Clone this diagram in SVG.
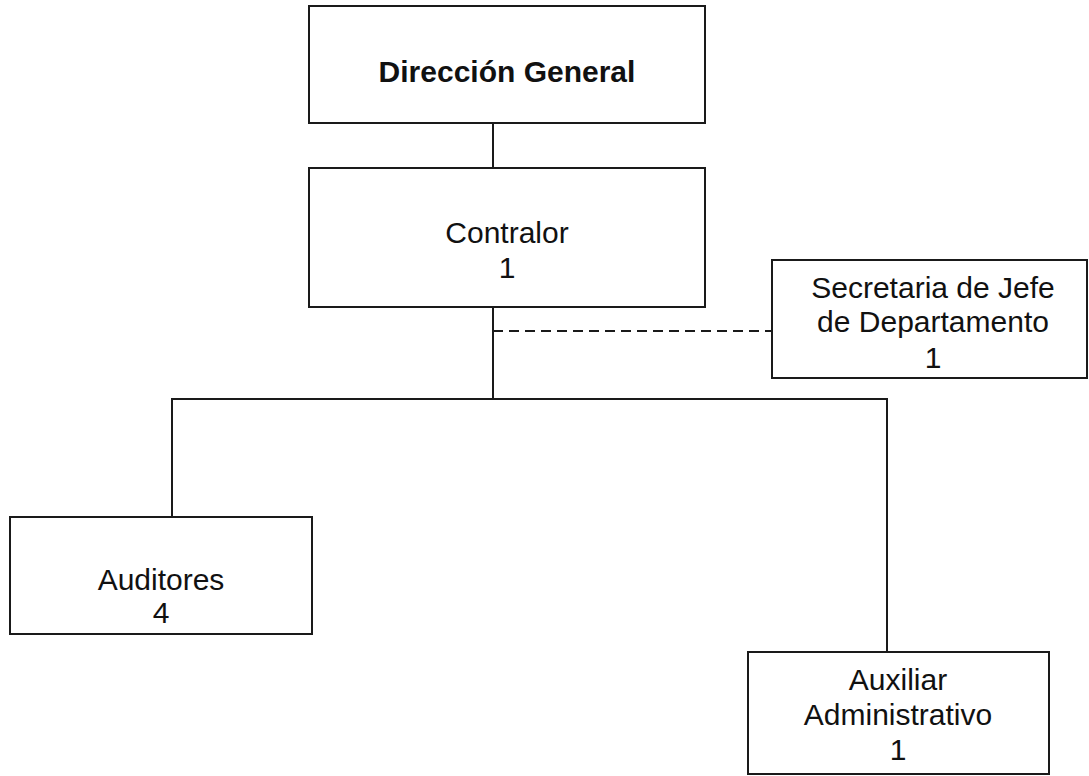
<svg xmlns="http://www.w3.org/2000/svg" width="1089" height="776" viewBox="0 0 1089 776">
<style>
.box{fill:#fff;stroke:#1a1a1a;stroke-width:2}
.ln{fill:none;stroke:#1a1a1a;stroke-width:2}
.dash{fill:none;stroke:#1a1a1a;stroke-width:2;stroke-dasharray:10 6}
text{font-family:"Liberation Sans",Arial,sans-serif;font-size:30px;fill:#111;text-anchor:middle}
.b{font-weight:bold}
</style>
<rect width="1089" height="776" fill="#fff"/>
<g id="connectors">
<line class="ln" x1="493" y1="123" x2="493" y2="168"/>
<line class="ln" x1="493" y1="307" x2="493" y2="399"/>
<polyline class="ln" points="172,517 172,399 887,399 887,652"/>
<line class="dash" x1="493" y1="331" x2="772" y2="331"/>
</g>
<g id="direccion">
<rect class="box" x="309" y="6" width="396" height="117"/>
<text class="b" x="507" y="82">Dirección General</text>
</g>
<g id="contralor">
<rect class="box" x="309" y="168" width="396" height="139"/>
<text x="507" y="243">Contralor</text>
<text x="507" y="278">1</text>
</g>
<g id="secretaria">
<rect class="box" x="772" y="260" width="315" height="118"/>
<text x="933" y="298">Secretaria de Jefe</text>
<text x="933" y="332">de Departamento</text>
<text x="933" y="368">1</text>
</g>
<g id="auditores">
<rect class="box" x="10" y="517" width="302" height="117"/>
<text x="161" y="590">Auditores</text>
<text x="161" y="623">4</text>
</g>
<g id="auxiliar">
<rect class="box" x="748" y="652" width="301" height="122"/>
<text x="898" y="690">Auxiliar</text>
<text x="898" y="725">Administrativo</text>
<text x="898" y="760">1</text>
</g>
</svg>
